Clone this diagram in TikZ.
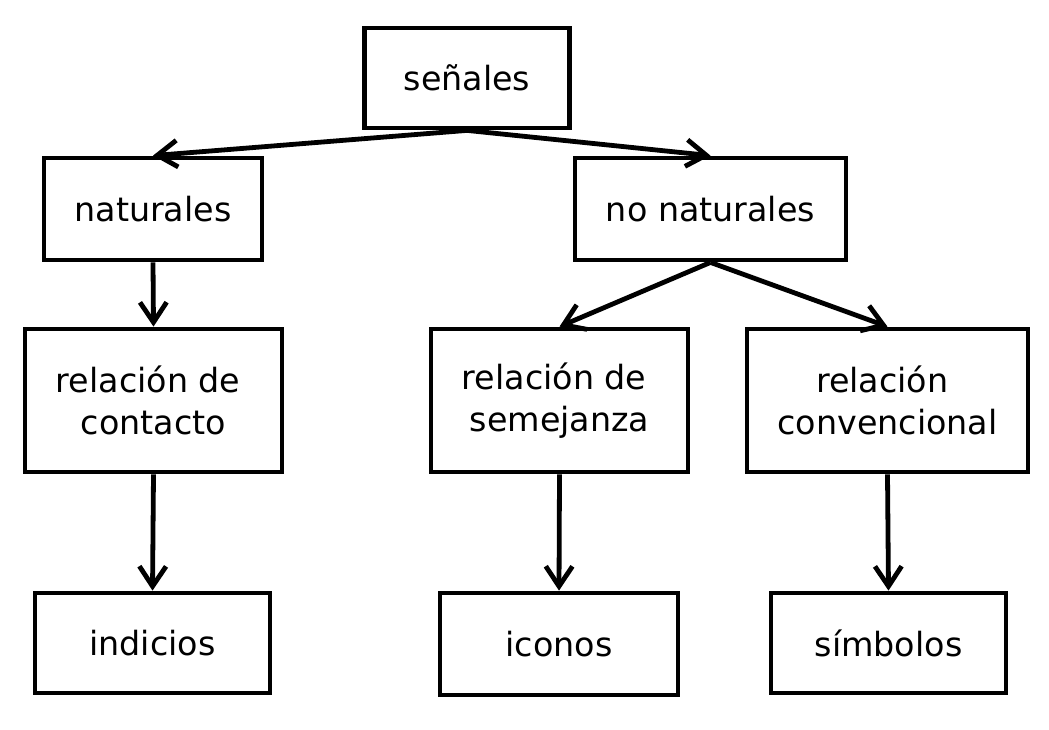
\documentclass[tikz,border=0pt]{standalone}
\usepackage{fontspec}
\setmainfont{DejaVu Sans}
\usetikzlibrary{arrows.meta}

\tikzset{
  box/.style={draw, line width=3.6pt, align=center, inner sep=0pt,
    font=\fontsize{25}{32}\selectfont},
  link/.style={-{Straight Barb[length=15pt,width=20pt]}, line width=3.6pt, draw=black}
}

\begin{document}
\begin{tikzpicture}[x=0.75pt, y=-0.75pt]

    \useasboundingbox (0,0) rectangle (1049,729);

    \node[box, minimum width=153.75pt, minimum height=75pt] (Se) at (467,78) {señales};

    \node[box, minimum width=163.5pt, minimum height=76.5pt] (Na) at (153,209) {naturales};
    \node[box, minimum width=203.25pt, minimum height=76.5pt] (NoNa) at (710.5,209) {no naturales};

    \node[box, minimum width=192.75pt, minimum height=107.25pt] (ReCo) at (153.5,400.5) {relación de\hspace*{0.32em}\\contacto};
    \node[box, minimum width=192.75pt, minimum height=107.25pt] (ReSe) at (559.5,400.5) {relación de\hspace*{0.32em}\\semejanza};
    \node[box, minimum width=210.75pt, minimum height=107.25pt] (ReCv) at (887.5,400.5) {relación\hspace*{0.32em}\\convencional};

    \node[box, minimum width=176.25pt, minimum height=75pt] (In) at (152.5,643) {indicios};
    \node[box, minimum width=178.5pt, minimum height=76.5pt] (Ic) at (559,644) {iconos};
    \node[box, minimum width=176.25pt, minimum height=75pt] (Si) at (888.5,643) {símbolos};

    \draw[link] (Se.south) to (Na.north);
    \draw[link] (Se.south) to (NoNa.north);

    \draw[link] (Na.south) to (ReCo.north);
    \draw[link] (NoNa.south) to (ReSe.north);
    \draw[link] (NoNa.south) to (ReCv.north);

    \draw[link] (ReCo.south) to (In.north);
    \draw[link] (ReSe.south) to (Ic.north);
    \draw[link] (ReCv.south) to (Si.north);

\end{tikzpicture}
\end{document}
